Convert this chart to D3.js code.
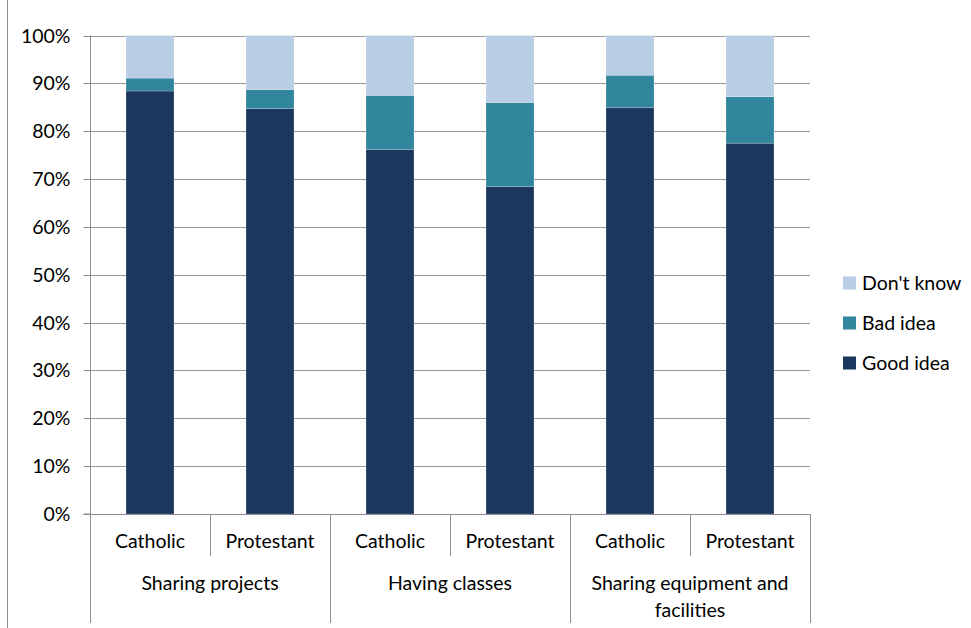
<!DOCTYPE html>
<html><head><meta charset="utf-8">
<script src="https://cdn.jsdelivr.net/npm/d3@7"></script>
<style>body{margin:0;background:#fff}svg{display:block}text{font-family:Lato,"Open Sans",sans-serif;fill:#000}</style>
</head><body>
<script>
const groups = ["Sharing projects", "Having classes", "Sharing equipment and facilities"];
const subcats = ["Catholic", "Protestant"];
const seriesNames = ["Good idea", "Bad idea", "Don't know"];
const goodIdea = [88.4, 84.7, 76.2, 68.4, 84.9, 77.5];
const badIdea = [2.7, 4.0, 11.3, 17.6, 6.8, 9.7];
const dontKnow = [8.9, 11.3, 12.5, 14.0, 8.3, 12.8];
const yTicks = [0,10,20,30,40,50,60,70,80,90,100];
const colors = ["#1b375e", "#31859c", "#b9cde5"];

(function(){
const W = 971, H = 628;
const FS = 19.5;
const svg = d3.select("body").append("svg").attr("width", W).attr("height", H);
const pLeft = 90, pRight = 810, pTop = 35.5, pBottom = 514;

const cats = [];
groups.forEach((g, gi) => subcats.forEach((s, si) => cats.push({g, s, i: gi*2+si})));
const x = d3.scaleBand().domain(cats.map(c => c.i)).range([pLeft, pRight]).paddingInner(0.6).paddingOuter(0.3);
const xFull = d3.scaleBand().domain(cats.map(c => c.i)).range([pLeft, pRight]);
const y = d3.scaleLinear().domain([0, 100]).range([pBottom, pTop]);

// outer frame left
svg.append("line").attr("x1", 7.5).attr("x2", 7.5).attr("y1", 0).attr("y2", H).attr("stroke", "#8c8c8c");

// gridlines
svg.append("g").selectAll("line").data(yTicks.filter(t => t > 0)).join("line")
  .attr("x1", pLeft).attr("x2", pRight)
  .attr("y1", d => Math.round(y(d)) + 0.5).attr("y2", d => Math.round(y(d)) + 0.5)
  .attr("stroke", "#969696").attr("stroke-width", 1);

// y axis
const yAxis = d3.axisLeft(y).tickValues(yTicks).tickFormat(d => d + "%").tickSize(7).tickPadding(13);
const yg = svg.append("g").attr("transform", `translate(${pLeft + 0.5},0)`).call(yAxis);
yg.select(".domain").attr("stroke", "#8c8c8c").attr("d", `M-7,${pBottom}H0V${pTop}`);
yg.selectAll(".tick line").attr("stroke", "#8c8c8c");
yg.selectAll(".tick text").attr("font-size", FS).attr("font-family", "Lato, sans-serif").attr("fill", "#000");
yg.selectAll(".tick").attr("transform", d => `translate(0,${Math.round(y(d)) + 0.5})`);

// stacked bars
const rows = cats.map(c => ({i: c.i, "Good idea": goodIdea[c.i], "Bad idea": badIdea[c.i], "Don't know": dontKnow[c.i]}));
const stack = d3.stack().keys(seriesNames)(rows);
svg.append("g").selectAll("g").data(stack).join("g").attr("fill", (d, k) => colors[k])
  .selectAll("rect").data(d => d).join("rect")
  .attr("x", d => x(d.data.i)).attr("width", x.bandwidth())
  .attr("y", d => y(d[1])).attr("height", d => y(d[0]) - y(d[1]))
  .attr("stroke", "#ffffff").attr("stroke-opacity", 0.35).attr("stroke-width", 0.6);

// x axis baseline
svg.append("line").attr("x1", pLeft).attr("x2", pRight).attr("y1", pBottom + 0.5).attr("y2", pBottom + 0.5).attr("stroke", "#8c8c8c");

// sub-category dividers
const subDiv = [1, 3, 5];
svg.append("g").selectAll("line").data(subDiv).join("line")
  .attr("x1", d => xFull(d) + 0.5).attr("x2", d => xFull(d) + 0.5)
  .attr("y1", pBottom).attr("y2", 556).attr("stroke", "#8c8c8c");
// group dividers
const grpDiv = [0, 2, 4, 6];
svg.append("g").selectAll("line").data(grpDiv).join("line")
  .attr("x1", d => (d < 6 ? xFull(d) : pRight) + 0.5).attr("x2", d => (d < 6 ? xFull(d) : pRight) + 0.5)
  .attr("y1", pBottom).attr("y2", 623).attr("stroke", "#8c8c8c");

// sub labels
svg.append("g").selectAll("text").data(cats).join("text")
  .attr("x", d => xFull(d.i) + xFull.bandwidth()/2).attr("y", 548)
  .attr("text-anchor", "middle").attr("font-size", FS).text(d => d.s);

// group labels
const groupLines = [["Sharing projects"], ["Having classes"], ["Sharing equipment and", "facilities"]];
groups.forEach((g, gi) => {
  const cx = xFull(gi*2) + xFull.bandwidth();
  const t = svg.append("text").attr("x", cx).attr("y", 590).attr("text-anchor", "middle").attr("font-size", FS);
  groupLines[gi].forEach((ln, li) => t.append("tspan").attr("x", cx).attr("dy", li === 0 ? 0 : 27).text(ln));
});

// legend
const legendOrder = ["Don't know", "Bad idea", "Good idea"];
const lg = svg.append("g").selectAll("g").data(legendOrder).join("g")
  .attr("transform", (d, k) => `translate(843,${283 + k*40})`);
lg.append("rect").attr("x", 0).attr("y", -6.5).attr("width", 13).attr("height", 13)
  .attr("fill", d => colors[seriesNames.indexOf(d)]);
lg.append("text").attr("x", 19).attr("y", 6.5).attr("font-size", FS).text(d => d);
})();
</script>
</body></html>
